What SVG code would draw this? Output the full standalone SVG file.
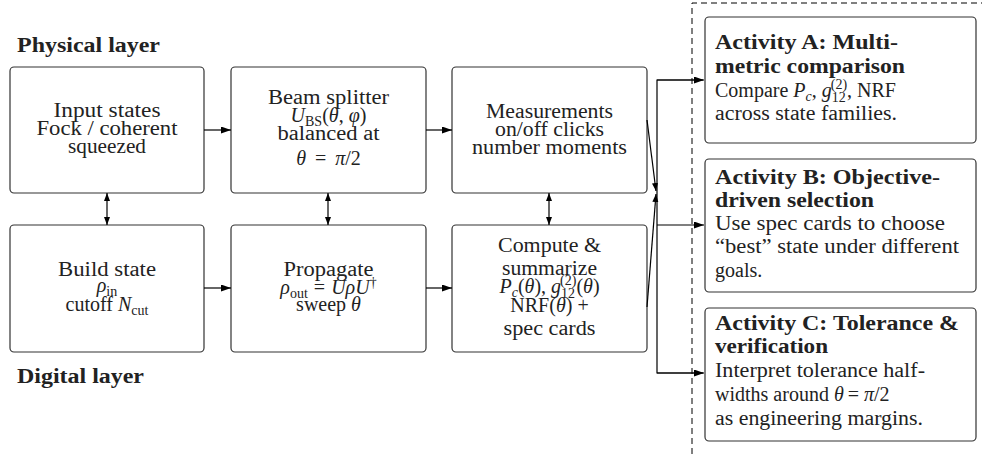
<svg xmlns="http://www.w3.org/2000/svg" width="982" height="454" viewBox="0 0 982 454">
<style>
.box{fill:#fff;stroke:#333;stroke-width:1.2}
.t{font-family:"Liberation Serif","Times New Roman",serif;font-size:20px;fill:#222}
.c{text-anchor:middle}
.b{font-weight:bold}
.i{font-style:italic}
.sub{font-size:14px}
.ln{stroke:#000;stroke-width:1.2;fill:none}
.dash{stroke:#000;stroke-width:1;fill:none;stroke-dasharray:6 4}
</style>
<defs>
<marker id="ah" markerUnits="userSpaceOnUse" markerWidth="11" markerHeight="8" refX="10" refY="3.5" orient="auto-start-reverse">
<path d="M0,0 L10,3.5 L0,7 z" fill="#000"/>
</marker>
<marker id="as" markerUnits="userSpaceOnUse" markerWidth="9" markerHeight="7" refX="8" refY="3" orient="auto-start-reverse">
<path d="M0,0 L8,3 L0,6 z" fill="#000"/>
</marker>
</defs>

<text class="t b" x="17" y="52" textLength="143" lengthAdjust="spacingAndGlyphs">Physical layer</text>
<text class="t b" x="17" y="383" textLength="127" lengthAdjust="spacingAndGlyphs">Digital layer</text>

<g id="input-states">
<rect class="box" x="10" y="67" width="194" height="126" rx="4"/>
<text class="t c" x="107" y="117" textLength="107" lengthAdjust="spacingAndGlyphs">Input states</text>
<text class="t c" x="107" y="135" textLength="141" lengthAdjust="spacingAndGlyphs">Fock / coherent</text>
<text class="t c" x="107" y="153" textLength="78" lengthAdjust="spacingAndGlyphs">squeezed</text>
</g>

<g id="beam-splitter">
<rect class="box" x="231" y="67" width="195" height="126" rx="4"/>
<text class="t c" x="328.5" y="104" textLength="121" lengthAdjust="spacingAndGlyphs">Beam splitter</text>
<text class="t c" x="328.5" y="122"><tspan class="i">U</tspan><tspan class="sub" dy="4">BS</tspan><tspan dy="-4">(</tspan><tspan class="i">θ</tspan><tspan>, </tspan><tspan class="i">φ</tspan><tspan>)</tspan></text>
<text class="t c" x="328.5" y="140" textLength="102" lengthAdjust="spacingAndGlyphs">balanced at</text>
<text class="t c" x="328.5" y="165"><tspan class="i">θ</tspan><tspan dx="9">=</tspan><tspan class="i" dx="9">π</tspan><tspan>/2</tspan></text>
</g>

<g id="measurements">
<rect class="box" x="452" y="67" width="195" height="126" rx="4"/>
<text class="t c" x="549.5" y="118" textLength="127" lengthAdjust="spacingAndGlyphs">Measurements</text>
<text class="t c" x="549.5" y="136" textLength="109" lengthAdjust="spacingAndGlyphs">on/off clicks</text>
<text class="t c" x="549.5" y="154" textLength="155" lengthAdjust="spacingAndGlyphs">number moments</text>
</g>

<g id="build-state">
<rect class="box" x="10" y="225" width="194" height="127" rx="4"/>
<text class="t c" x="107" y="276" textLength="98" lengthAdjust="spacingAndGlyphs">Build state</text>
<text class="t c" x="107" y="292"><tspan class="i">ρ</tspan><tspan class="sub" dy="4">in</tspan></text>
<text class="t c" x="107" y="311"><tspan>cutoff </tspan><tspan class="i">N</tspan><tspan class="sub" dy="4">cut</tspan></text>
</g>

<g id="propagate">
<rect class="box" x="231" y="225" width="195" height="127" rx="4"/>
<text class="t c" x="328.5" y="276" textLength="90" lengthAdjust="spacingAndGlyphs">Propagate</text>
<text class="t c" x="328.5" y="294"><tspan class="i">ρ</tspan><tspan class="sub" dy="4">out</tspan><tspan dy="-4" dx="6">=</tspan><tspan class="i" dx="6">UρU</tspan><tspan class="sub" dy="-7">†</tspan></text>
<text class="t c" x="328.5" y="311"><tspan>sweep </tspan><tspan class="i">θ</tspan></text>
</g>

<g id="compute-summarize">
<rect class="box" x="452" y="225" width="195" height="127" rx="4"/>
<text class="t c" x="549.5" y="252" textLength="103" lengthAdjust="spacingAndGlyphs">Compute &amp;</text>
<text class="t c" x="549.5" y="275" textLength="95" lengthAdjust="spacingAndGlyphs">summarize</text>
<text class="t c" x="549.5" y="293"><tspan class="i">P</tspan><tspan class="sub i" dy="4">c</tspan><tspan dy="-4">(</tspan><tspan class="i">θ</tspan><tspan>), </tspan><tspan class="i">g</tspan><tspan class="sub" dy="5">12</tspan><tspan class="sub" dx="-15" dy="-13">(2)</tspan><tspan dy="8">(</tspan><tspan class="i">θ</tspan><tspan>)</tspan></text>
<text class="t c" x="549.5" y="312"><tspan>NRF(</tspan><tspan class="i">θ</tspan><tspan>) +</tspan></text>
<text class="t c" x="549.5" y="335" textLength="92" lengthAdjust="spacingAndGlyphs">spec cards</text>
</g>

<g id="activity-a">
<rect class="box" x="705" y="17" width="271" height="126" rx="4"/>
<text class="t b" x="715" y="49" textLength="183" lengthAdjust="spacingAndGlyphs">Activity A: Multi-</text>
<text class="t b" x="715" y="73" textLength="190" lengthAdjust="spacingAndGlyphs">metric comparison</text>
<text class="t" x="715" y="97"><tspan>Compare </tspan><tspan class="i">P</tspan><tspan class="sub i" dy="4">c</tspan><tspan dy="-4">, </tspan><tspan class="i">g</tspan><tspan class="sub" dy="5">12</tspan><tspan class="sub" dx="-15" dy="-13">(2)</tspan><tspan dy="8">, NRF</tspan></text>
<text class="t" x="715" y="120" textLength="182" lengthAdjust="spacingAndGlyphs">across state families.</text>
</g>

<g id="activity-b">
<rect class="box" x="705" y="159" width="271" height="133" rx="4"/>
<text class="t b" x="715" y="184" textLength="225" lengthAdjust="spacingAndGlyphs">Activity B: Objective-</text>
<text class="t b" x="715" y="207" textLength="159" lengthAdjust="spacingAndGlyphs">driven selection</text>
<text class="t" x="715" y="230" textLength="230" lengthAdjust="spacingAndGlyphs">Use spec cards to choose</text>
<text class="t" x="715" y="253" textLength="244" lengthAdjust="spacingAndGlyphs">“best” state under different</text>
<text class="t" x="715" y="277">goals.</text>
</g>

<g id="activity-c">
<rect class="box" x="705" y="308" width="271" height="133" rx="4"/>
<text class="t b" x="715" y="330" textLength="244" lengthAdjust="spacingAndGlyphs">Activity C: Tolerance &amp;</text>
<text class="t b" x="715" y="353" textLength="113" lengthAdjust="spacingAndGlyphs">verification</text>
<text class="t" x="715" y="377" textLength="210" lengthAdjust="spacingAndGlyphs">Interpret tolerance half-</text>
<text class="t" x="715" y="401"><tspan>widths around </tspan><tspan class="i">θ</tspan><tspan dx="4">= </tspan><tspan class="i">π</tspan><tspan>/2</tspan></text>
<text class="t" x="715" y="425" textLength="208" lengthAdjust="spacingAndGlyphs">as engineering margins.</text>
</g>

<g id="connectors">
<line class="ln" x1="204" y1="130" x2="231" y2="130" marker-end="url(#ah)"/>
<line class="ln" x1="426" y1="130" x2="452" y2="130" marker-end="url(#ah)"/>
<line class="ln" x1="204" y1="288" x2="231" y2="288" marker-end="url(#ah)"/>
<line class="ln" x1="426" y1="288" x2="452" y2="288" marker-end="url(#ah)"/>
<line class="ln" x1="107" y1="193" x2="107" y2="225" marker-start="url(#as)" marker-end="url(#as)"/>
<line class="ln" x1="328" y1="193" x2="328" y2="225" marker-start="url(#as)" marker-end="url(#as)"/>
<line class="ln" x1="549" y1="193" x2="549" y2="225" marker-start="url(#as)" marker-end="url(#as)"/>
<line class="ln" x1="647" y1="120" x2="656" y2="191" marker-end="url(#as)"/>
<line class="ln" x1="647" y1="307" x2="656" y2="194" marker-end="url(#as)"/>
<polyline class="ln" points="703,80 657,80 657,373 703,373" stroke-width="1"/>
<line class="ln" x1="657" y1="80" x2="704" y2="80" marker-end="url(#ah)"/>
<line class="ln" x1="657" y1="225" x2="704" y2="225" marker-end="url(#ah)"/>
<line class="ln" x1="657" y1="373" x2="704" y2="373" marker-end="url(#ah)"/>
</g>

<g id="frame">
<polyline class="dash" points="692,454 692,3 982,3"/>
</g>
</svg>
